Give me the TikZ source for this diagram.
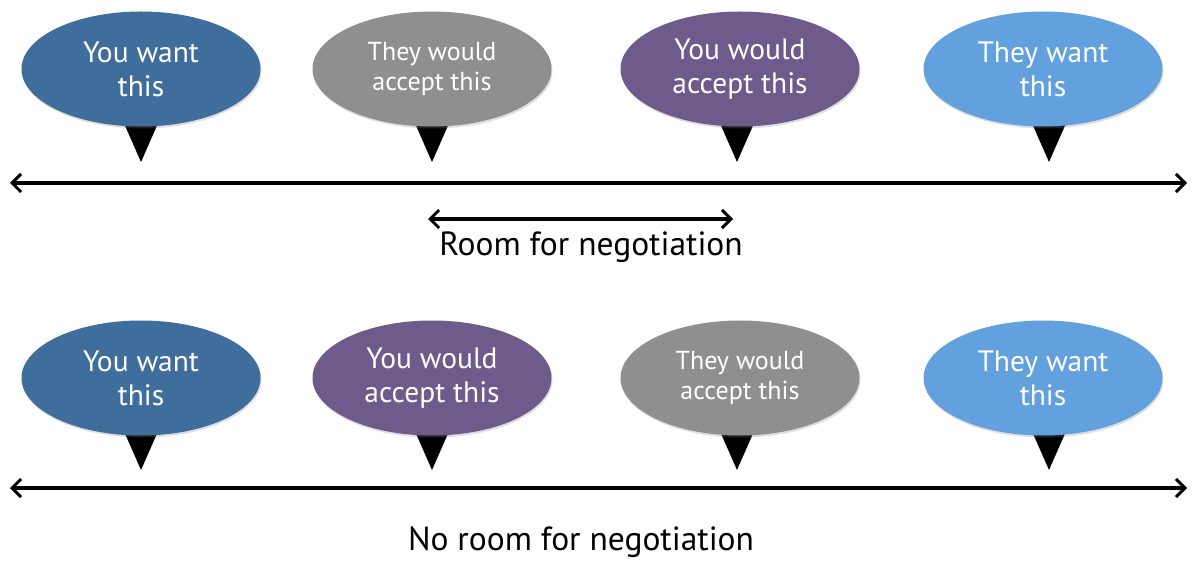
\documentclass[tikz,border=0pt]{standalone}
\usepackage{fontspec}
\setmainfont{PT Sans}
\usetikzlibrary{arrows.meta,shadows,shapes.geometric}
\definecolor{wantblue}{HTML}{3F6E9D}
\definecolor{theyblue}{HTML}{62A0DE}
\definecolor{acceptgray}{HTML}{8F8F8F}
\definecolor{acceptpurple}{HTML}{6E5A8B}
\tikzset{
  bubble/.style={ellipse, minimum width=239pt, minimum height=115pt, inner sep=0pt,
    text=white, align=center, font=\fontsize{29.5}{34}\selectfont,
    drop shadow={opacity=0.25, shadow xshift=1pt, shadow yshift=-2pt}},
  smalltext/.style={font=\fontsize{26}{30}\selectfont},
  pointer/.style={fill=black},
  axis/.style={line width=3.2pt, {Straight Barb[length=9pt,width=18pt,line width=3pt]}-{Straight Barb[length=9pt,width=18pt,line width=3pt]}},
  caption/.style={font=\fontsize{33.5}{38}\selectfont}
}
\begin{document}
\begin{tikzpicture}[x=1pt,y=-1pt]
\useasboundingbox (0,0) rectangle (1192,561);

% ---- upper row: overlapping ranges ----
\foreach \x in {141,432,737,1049}{
  \fill[pointer] (\x-22,112) -- (\x+22,112) -- (\x,162) -- cycle;
}
\node[bubble, fill=wantblue]     (a1) at (141,69) {You want\\this};
\node[bubble, fill=acceptgray, smalltext] (a2) at (432,69) {They would\\accept this};
\node[bubble, fill=acceptpurple] (a3) at (740,69) {You would\\accept this};
\node[bubble, fill=theyblue]     (a4) at (1043,69) {They want\\this};

\coordinate (l1) at (10,183);
\coordinate (r1) at (1187,183);
\draw[axis] (l1) -- (r1);

\coordinate (rl) at (428,219);
\coordinate (rr) at (733,219);
\draw[axis] (rl) -- (rr);
\node[caption] (room) at (591,247) {Room for negotiation};

% ---- lower row: no overlap ----
\foreach \x in {141,432,737,1049}{
  \fill[pointer] (\x-22,420) -- (\x+22,420) -- (\x,470) -- cycle;
}
\node[bubble, fill=wantblue]     (b1) at (141,378) {You want\\this};
\node[bubble, fill=acceptpurple] (b2) at (432,378) {You would\\accept this};
\node[bubble, fill=acceptgray, smalltext] (b3) at (740,378) {They would\\accept this};
\node[bubble, fill=theyblue]     (b4) at (1043,378) {They want\\this};

\coordinate (l2) at (10,488);
\coordinate (r2) at (1187,488);
\draw[axis] (l2) -- (r2);
\node[caption] (noroom) at (581,542) {No room for negotiation};
\end{tikzpicture}
\end{document}
